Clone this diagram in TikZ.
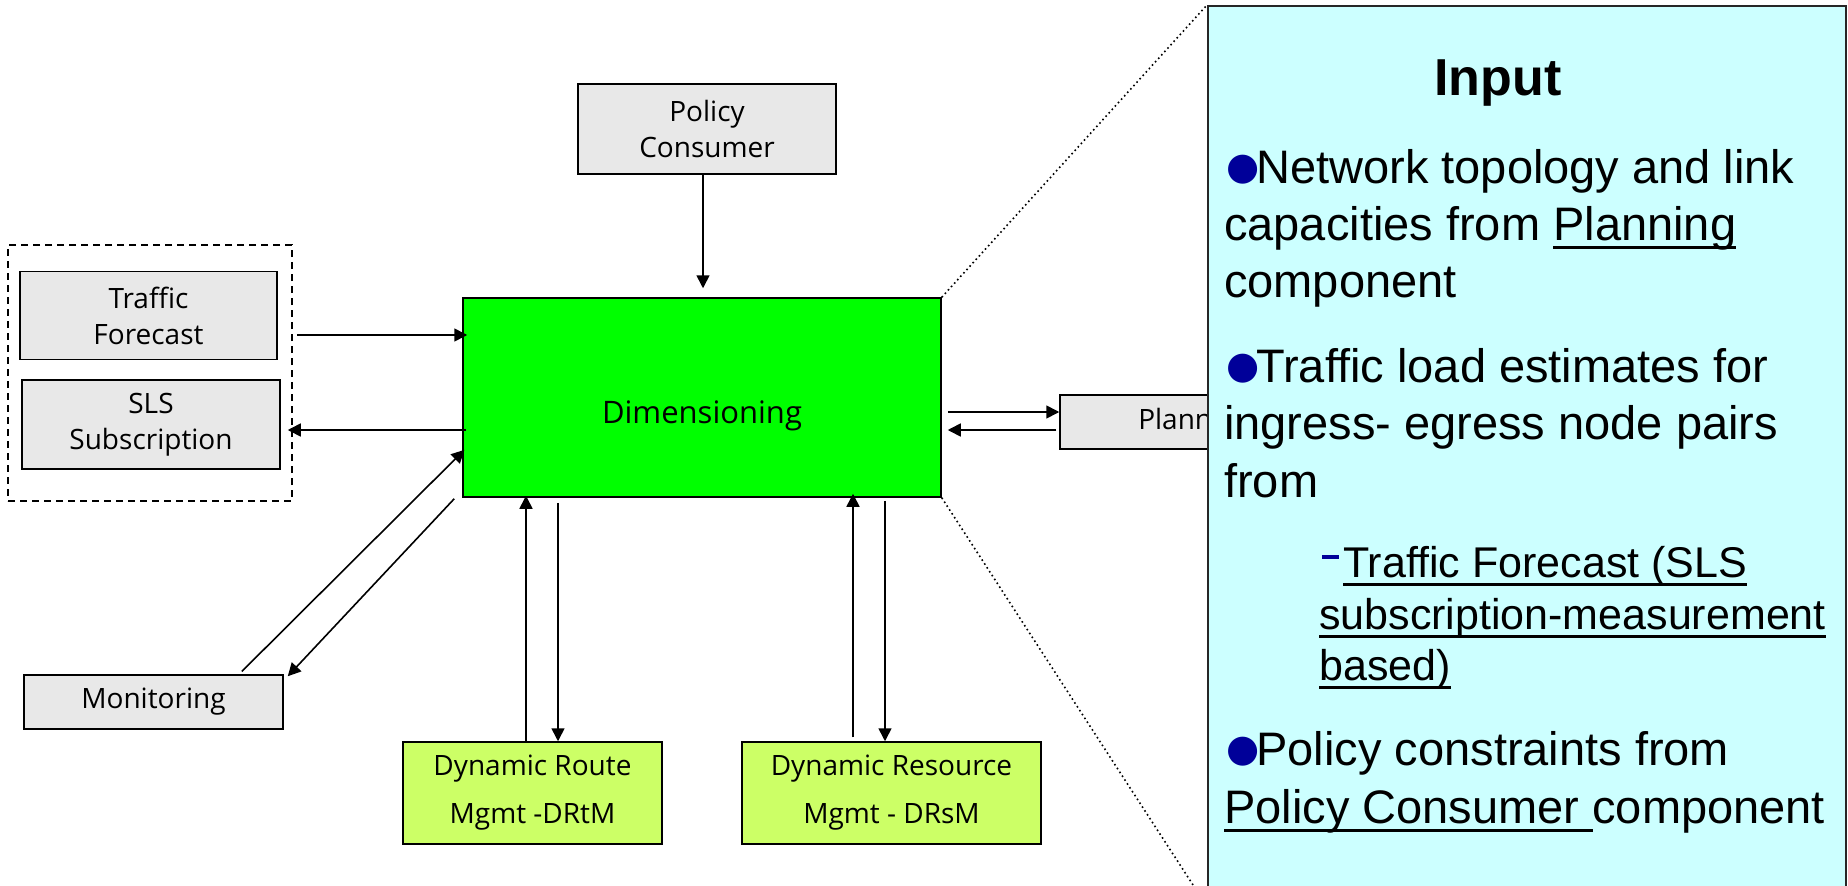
\documentclass[tikz,border=0pt]{standalone}
\usepackage{fontspec}
\setmainfont{Liberation Sans}
\newfontfamily\boxfont{Open Sans}
\newfontfamily\dotfont{DejaVu Sans}
\usetikzlibrary{arrows.meta}

\definecolor{boxgray}{HTML}{E8E8E8}
\definecolor{dimgreen}{HTML}{00FF00}
\definecolor{mgmtgreen}{HTML}{CCFF66}
\definecolor{inputcyan}{HTML}{CCFFFF}
\definecolor{bulletblue}{HTML}{000099}

% bullet, sub-bullet and underline for the input panel
\newcommand\blt{\textcolor{bulletblue}{\dotfont\fontsize{38}{38}\selectfont\raisebox{4pt}{●}}\kern-3pt}
\newcommand\sdash{\textcolor{bulletblue}{\raisebox{18pt}{\rule{17pt}{4pt}}}\hspace{4pt}}
\newcommand\undl[1]{\setbox0\hbox{#1}\rlap{\rule[-8.5pt]{\wd0}{3pt}}\box0}

\tikzset{
  comp/.style={draw=black, line width=1.5pt, fill=boxgray, align=center, inner sep=0pt,
    font=\boxfont\fontsize{28}{36}\selectfont},
  mgmt/.style={comp, fill=mgmtgreen, minimum height=102pt},
  arr/.style={-{Triangle[length=13pt,width=13pt]}, line width=1.6pt},
  zoomline/.style={line width=1.6pt, dash pattern=on 1.6pt off 3pt},
  txt/.style={anchor=base west, inner sep=0pt, font=\fontsize{47}{57}\selectfont},
  subtxt/.style={txt, font=\fontsize{43}{52}\selectfont},
}

\begin{document}
\begin{tikzpicture}[x=1pt,y=-1pt]
\useasboundingbox (0,0) rectangle (1848,886);

\node[comp, minimum width=258pt, minimum height=90pt] (pc) at (707,129) {Policy\\Consumer};
\node[comp, fill=dimgreen, minimum width=478pt, minimum height=199pt, text height=51pt,
  text depth=0pt, font=\boxfont\fontsize{31}{36}\selectfont] (dim) at (702,397.5) {Dimensioning};
\node[draw, line width=1.5pt, dash pattern=on 7pt off 5pt, minimum width=284pt,
  minimum height=256pt] (grp) at (150,373) {};
\node[comp, minimum width=257pt, minimum height=88pt] (tf) at (148.5,315.5) {Traffic\\Forecast};
\node[comp, minimum width=258pt, minimum height=89pt] (sls) at (151,424.5) {SLS\\Subscription};
\node[comp, minimum width=259pt, minimum height=54pt] (mon) at (153.5,702) {Monitoring};
\node[mgmt, minimum width=259pt] (drtm) at (532.5,793) {Dynamic Route\\[12pt]Mgmt -DRtM};
\node[mgmt, minimum width=299pt] (drsm) at (891.5,793) {Dynamic Resource\\[12pt]Mgmt - DRsM};
\node[comp, minimum width=270pt, minimum height=54pt] (plan) at (1195,422) {Planning};

% arrows round Dimensioning
\draw[arr, shorten >=9pt] (pc.south -| 703,0) -- (dim.north -| 703,0);
\draw[arr, shorten <=4pt, shorten >=-5pt] (grp.east |- 0,335) -- (dim.west |- 0,335);
\draw[arr, shorten <=-4pt, shorten >=-5pt] (dim.west |- 0,430) -- (grp.east |- 0,430);
\draw[arr, shorten <=4pt, shorten >=-3pt] (mon.north -| 239,0) -- (dim.west |- 0,452);
\draw[arr] ([shift={(-8,1)}]dim.south west) -- ([shift={(4,2)}]mon.north east);
\draw[arr, shorten >=-2pt] (drtm.north -| 526,0) -- (dim.south -| 526,0);
\draw[arr, shorten <=5pt] (dim.south -| 558,0) -- (drtm.north -| 558,0);
\draw[arr, shorten <=4pt, shorten >=-4pt] (drsm.north -| 853,0) -- (dim.south -| 853,0);
\draw[arr, shorten <=3pt] (dim.south -| 885,0) -- (drsm.north -| 885,0);
\draw[arr, shorten <=6pt] (dim.east |- 0,412) -- (plan.west |- 0,412);
\draw[arr, shorten <=3pt, shorten >=6pt] (plan.west |- 0,430) -- (dim.east |- 0,430);

% zoom-out panel
\node[draw=black!85, line width=1.5pt, fill=inputcyan, anchor=north west, inner sep=0pt,
  minimum width=638pt, minimum height=900pt] (inp) at (1207,5) {};
\draw[zoomline] (dim.north east) -- (inp.north west);
\draw[zoomline] (dim.south east) -- (inp.south west);

\node[anchor=base, inner sep=0pt, font=\bfseries\fontsize{52}{60}\selectfont] (ttl) at (1498,95) {Input};
\node[txt] (l1) at (1226,183) {\blt Network topology and link};
\node[txt] (l2) at (1224,240) {capacities from \undl{Planning}};
\node[txt] (l3) at (1224,297) {component};
\node[txt] (l4) at (1226,382) {\blt Traffic load estimates for};
\node[txt] (l5) at (1224,439) {ingress- egress node pairs};
\node[txt] (l6) at (1224,497) {from};
\node[subtxt] (s1) at (1322,577) {\sdash\undl{Traffic Forecast (SLS}};
\node[subtxt] (s2) at (1319,629) {\undl{subscription-measurement}};
\node[subtxt] (s3) at (1319,680) {\undl{based)}};
\node[txt] (l7) at (1226,765) {\blt Policy constraints from};
\node[txt] (l8) at (1224,823) {\undl{Policy Consumer\ }component};
\end{tikzpicture}
\end{document}
